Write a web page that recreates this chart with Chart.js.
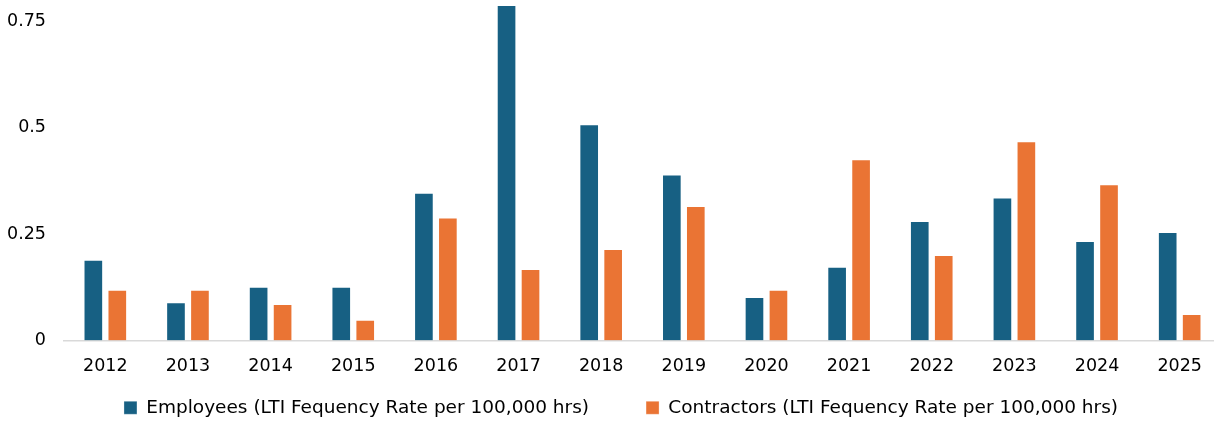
<!DOCTYPE html>
<html lang="en">
<head>
<meta charset="UTF-8">
<title>LTI Frequency Rate</title>
<script src="https://cdn.jsdelivr.net/npm/chart.js"></script>
<style>
    html, body {
        margin: 0;
        padding: 0;
        background: #ffffff;
        overflow: hidden;
    }
    /* slightly wider/taller than the window: the reference crops the plot on the right */
    .chart-box {
        position: relative;
        width: 1222px;
        height: 427px;
    }
</style>
</head>
<body>
<div class="chart-box">
    <canvas id="ltiChart"></canvas>
</div>

<script>
// data
var years = ['2012', '2013', '2014', '2015', '2016', '2017', '2018', '2019', '2020', '2021', '2022', '2023', '2024', '2025'];
var employees = [0.19, 0.09, 0.126, 0.126, 0.347, 0.788, 0.508, 0.39, 0.102, 0.173, 0.281, 0.336, 0.234, 0.255];
var contractors = [0.119, 0.119, 0.086, 0.049, 0.289, 0.168, 0.215, 0.316, 0.119, 0.426, 0.201, 0.468, 0.367, 0.062];
var yTicks = [0, 0.25, 0.5, 0.75];

var seriesNames = [
    'Employees (LTI Fequency Rate per 100,000 hrs)',
    'Contractors (LTI Fequency Rate per 100,000 hrs)'
];

Chart.defaults.font.family = '"DejaVu Sans", sans-serif';
Chart.defaults.color = '#000000';

var ctx = document.getElementById('ltiChart').getContext('2d');
var ltiChart = new Chart(ctx, {
    type: 'bar',
    data: {
        labels: years,
        datasets: [{
            label: seriesNames[0],
            data: employees,
            backgroundColor: '#176083',
            borderColor: 'rgba(255, 255, 255, 0.3)',
            borderWidth: 1,
            barPercentage: 0.82,
            categoryPercentage: 0.58
        }, {
            label: seriesNames[1],
            data: contractors,
            backgroundColor: '#ea7434',
            borderColor: 'rgba(255, 255, 255, 0.3)',
            borderWidth: 1,
            barPercentage: 0.82,
            categoryPercentage: 0.58
        }]
    },
    options: {
        responsive: true,
        maintainAspectRatio: false,
        animation: false,
        layout: {
            padding: { left: 21, right: 1, top: 0, bottom: 0 }
        },
        plugins: {
            legend: {
                position: 'bottom',
                labels: {
                    boxWidth: 13,
                    boxHeight: 13,
                    padding: 57,
                    font: { size: 18.5 }
                }
            },
            tooltip: { enabled: false }
        },
        scales: {
            x: {
                grid: { display: false },
                border: { display: true, color: '#d9d9d9', width: 1.5 },
                ticks: {
                    // mirror turns off the label clipping of the thin axis box
                    mirror: true,
                    padding: -36.5,
                    font: { size: 17.5 }
                },
                afterFit: function (scale) {
                    scale.height = 1;
                }
            },
            y: {
                min: 0,
                max: 0.8,
                grid: { display: false },
                border: { display: false },
                ticks: {
                    mirror: true,
                    crossAlign: 'far',
                    padding: -57,
                    font: { size: 17.5 },
                    callback: function (value) {
                        return String(value);
                    }
                },
                afterBuildTicks: function (scale) {
                    scale.ticks = yTicks.map(function (v) { return { value: v }; });
                },
                afterFit: function (scale) {
                    scale.width = 43;
                    scale.paddingTop = 0;
                    scale.paddingBottom = 0;
                }
            }
        }
    }
});
</script>
</body>
</html>
